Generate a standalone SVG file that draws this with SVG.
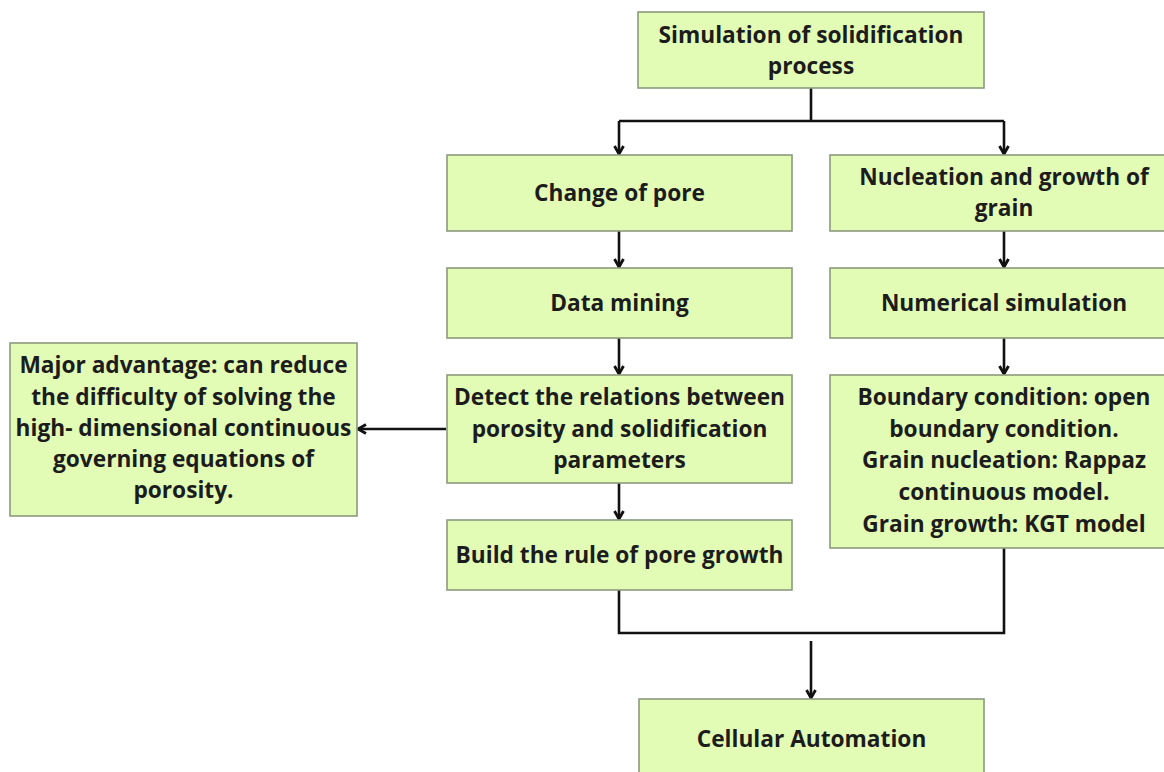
<svg xmlns="http://www.w3.org/2000/svg" width="1164" height="772" viewBox="0 0 1164 772">
<style>
.box{fill:#e2fbb5;stroke:#8c9a7e;stroke-width:1.6}
.t{font-family:"Open Sans","Liberation Sans",sans-serif;font-weight:700;font-size:22.7px;fill:#1c1c1c;text-anchor:middle}
.c{fill:none;stroke:#111;stroke-width:2.6}
</style>
<defs>
<marker id="ah" viewBox="0 0 12 12" refX="10" refY="6" markerWidth="12" markerHeight="12" markerUnits="userSpaceOnUse" orient="auto">
<path d="M2,1.5 L10,6 L2,10.5" fill="none" stroke="#111" stroke-width="2.8"/>
</marker>
</defs>
<rect width="1164" height="772" fill="#ffffff"/>
<g id="connectors">
<path class="c" d="M811,88 V121 M619,121 H1004"/>
<path class="c" d="M619,121 V154" marker-end="url(#ah)"/>
<path class="c" d="M1004,121 V154" marker-end="url(#ah)"/>
<path class="c" d="M619,231 V267" marker-end="url(#ah)"/>
<path class="c" d="M619,338 V374" marker-end="url(#ah)"/>
<path class="c" d="M619,483 V519" marker-end="url(#ah)"/>
<path class="c" d="M1004,231 V267" marker-end="url(#ah)"/>
<path class="c" d="M1004,338 V374" marker-end="url(#ah)"/>
<path class="c" d="M446,429 H358" marker-end="url(#ah)"/>
<path class="c" d="M619,590 V633 H1004 V548"/>
<path class="c" d="M811,641 V698" marker-end="url(#ah)"/>
</g>
<g id="n-sim">
<rect class="box" x="638" y="12" width="346" height="76"/>
<text class="t" x="811" y="43">Simulation of solidification</text>
<text class="t" x="811" y="74">process</text>
</g>
<g id="n-pore">
<rect class="box" x="447" y="155" width="345" height="76"/>
<text class="t" x="619.5" y="201">Change of pore</text>
</g>
<g id="n-grain">
<rect class="box" x="830" y="155" width="346" height="76"/>
<text class="t" x="1004" y="185">Nucleation and growth of</text>
<text class="t" x="1004" y="216">grain</text>
</g>
<g id="n-mining">
<rect class="box" x="447" y="268" width="345" height="70"/>
<text class="t" x="619.5" y="311">Data mining</text>
</g>
<g id="n-numsim">
<rect class="box" x="830" y="268" width="346" height="70"/>
<text class="t" x="1004" y="311">Numerical simulation</text>
</g>
<g id="n-detect">
<rect class="box" x="447" y="375" width="345" height="108"/>
<text class="t" x="619.5" y="405">Detect the relations between</text>
<text class="t" x="619.5" y="437">porosity and solidification</text>
<text class="t" x="619.5" y="468">parameters</text>
</g>
<g id="n-boundary">
<rect class="box" x="830" y="375" width="346" height="173"/>
<text class="t" x="1004" y="405">Boundary condition: open</text>
<text class="t" x="1004" y="437">boundary condition.</text>
<text class="t" x="1004" y="468">Grain nucleation: Rappaz</text>
<text class="t" x="1004" y="500">continuous model.</text>
<text class="t" x="1004" y="532">Grain growth: KGT model</text>
</g>
<g id="n-advantage">
<rect class="box" x="10" y="343" width="347" height="173"/>
<text class="t" x="183.5" y="373">Major advantage: can reduce</text>
<text class="t" x="183.5" y="405">the difficulty of solving the</text>
<text class="t" x="183.5" y="436">high- dimensional continuous</text>
<text class="t" x="183.5" y="467">governing equations of</text>
<text class="t" x="183.5" y="498">porosity.</text>
</g>
<g id="n-build">
<rect class="box" x="447" y="520" width="345" height="70"/>
<text class="t" x="619.5" y="563">Build the rule of pore growth</text>
</g>
<g id="n-ca">
<rect class="box" x="639" y="699" width="345" height="82"/>
<text class="t" x="811.5" y="747">Cellular Automation</text>
</g>
</svg>
